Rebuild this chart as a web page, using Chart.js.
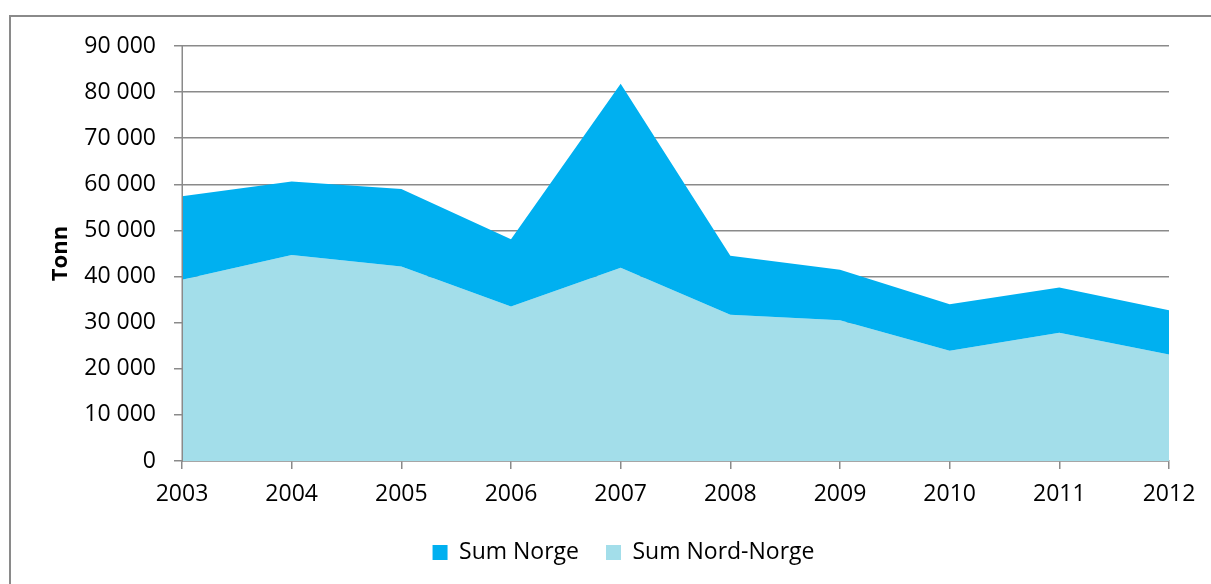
<!DOCTYPE html>
<html>
<head>
<meta charset="utf-8">
<script src="https://cdn.jsdelivr.net/npm/chart.js@4.4.1/dist/chart.umd.min.js"></script>
<style>
  html, body { margin: 0; padding: 0; background: #ffffff; }
  #wrap { position: relative; width: 1211px; height: 584px; overflow: hidden; }
  #frame { position: absolute; left: 9px; top: 15px; width: 1300px; height: 700px; border: 2px solid #8a8a8a; box-sizing: border-box; }
  #c { position: absolute; left: 0; top: 0; }
</style>
</head>
<body>
<div id="wrap">
  <div id="frame"></div>
  <canvas id="c" width="1211" height="584"></canvas>
</div>
<script>
const years = ['2003', '2004', '2005', '2006', '2007', '2008', '2009', '2010', '2011', '2012'];
const sumNorge = [57400, 60600, 59000, 48100, 81800, 44500, 41500, 34000, 37600, 32700];
const sumNordNorge = [39300, 44700, 42200, 33500, 41900, 31700, 30500, 23900, 27800, 23100];
const yMin = 0, yMax = 90000, yStep = 10000;

const FONT = "'Open Sans', 'DejaVu Sans', sans-serif";
const AXIS = '#8a8a8a';

const yAxisLine = {
  id: 'yAxisLine',
  afterDatasetsDraw(chart) {
    const {ctx, chartArea} = chart;
    ctx.save();
    ctx.fillStyle = AXIS;
    ctx.fillRect(chartArea.left - 0.5, chartArea.top, 1.5, chartArea.bottom - chartArea.top + 1);
    ctx.restore();
  }
};

new Chart(document.getElementById('c'), {
  type: 'line',
  data: {
    labels: years,
    datasets: [
      {
        label: 'Sum Norge',
        data: sumNorge,
        backgroundColor: '#00B0F0',
        borderColor: '#00B0F0',
        borderWidth: 0,
        pointRadius: 0,
        fill: '+1',
        tension: 0
      },
      {
        label: 'Sum Nord-Norge',
        data: sumNordNorge,
        backgroundColor: '#A3DEEA',
        borderColor: '#A3DEEA',
        borderWidth: 0,
        pointRadius: 0,
        fill: 'origin',
        tension: 0
      }
    ]
  },
  options: {
    responsive: false,
    animation: false,
    devicePixelRatio: 1,
    layout: { padding: { left: 36, right: 0, top: 46, bottom: 10 } },
    plugins: {
      tooltip: { enabled: false },
      legend: {
        position: 'bottom',
        labels: {
          boxWidth: 15,
          boxHeight: 15,
          padding: 27,
          color: '#000000',
          font: { family: FONT, size: 23 }
        }
      }
    },
    scales: {
      x: {
        z: 1,
        offset: false,
        grid: { display: true, drawOnChartArea: false, drawTicks: true, tickLength: 8, color: AXIS, lineWidth: 1.5 },
        border: { display: true, color: AXIS, width: 1.5 },
        ticks: { color: '#000000', padding: 12, maxRotation: 0, autoSkip: false, font: { family: FONT, size: 23 } },
        afterFit(scale) { scale.height = 53; }
      },
      y: {
        min: yMin,
        max: yMax,
        grid: { color: AXIS, lineWidth: 1.5, drawTicks: true, tickLength: 8 },
        border: { display: false },
        ticks: {
          stepSize: yStep,
          padding: 18,
          color: '#000000',
          font: { family: FONT, size: 23 },
          callback: (v) => String(v).replace(/\B(?=(\d{3})+(?!\d))/g, ' ')
        },
        title: {
          display: true,
          text: 'Tonn',
          color: '#000000',
          font: { family: FONT, size: 22, weight: 'bold' },
          padding: { top: 11.8, bottom: 0 }
        },
        afterFit(scale) { scale.width = 146; }
      },
      y2: {
        position: 'right',
        display: true,
        grid: { display: false, drawTicks: false },
        border: { display: false },
        ticks: { display: false },
        afterFit(scale) { scale.width = 42; }
      }
    }
  },
  plugins: [yAxisLine]
});
</script>
</body>
</html>
